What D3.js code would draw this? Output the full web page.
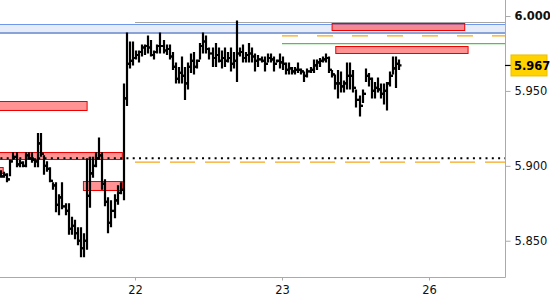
<!DOCTYPE html>
<html><head><meta charset="utf-8">
<script src="https://cdn.jsdelivr.net/npm/d3@7"></script>
<style>
html,body{margin:0;padding:0;background:#fff;}
svg{display:block;}
text{font-family:"DejaVu Sans",Verdana,sans-serif;}
</style></head>
<body><svg id="c" width="550" height="300"></svg>
<script>
// ---- data ----
const dayTicks = [44, 92, 140];
const dayLabels = ["22", "23", "26"];
const yTicks = [6.000, 5.950, 5.900, 5.850];
const lastPrice = 5.967;
const firstOpen = 5.895;
const highs = [5.897,5.896,5.895,5.904,5.909,5.909,5.904,5.903,5.909,5.909,5.909,5.905,5.922,5.922,5.907,5.903,5.899,5.889,5.889,5.881,
5.889,5.875,5.875,5.866,5.864,5.859,5.859,5.855,5.905,5.906,5.906,5.909,5.919,5.909,5.891,5.879,5.877,5.881,5.887,5.889,
5.955,5.989,5.983,5.983,5.977,5.977,5.981,5.981,5.987,5.984,5.977,5.981,5.989,5.984,5.981,5.981,5.976,5.969,5.966,5.973,
5.966,5.969,5.975,5.976,5.971,5.982,5.989,5.987,5.979,5.979,5.982,5.979,5.977,5.979,5.976,5.979,5.976,5.997,5.979,5.981,
5.976,5.982,5.979,5.975,5.974,5.973,5.973,5.975,5.975,5.973,5.971,5.975,5.973,5.969,5.969,5.966,5.966,5.969,5.965,5.963,
5.965,5.966,5.971,5.971,5.972,5.973,5.975,5.973,5.964,5.961,5.964,5.963,5.957,5.969,5.969,5.964,5.951,5.947,5.951,5.965,
5.962,5.959,5.956,5.959,5.955,5.955,5.956,5.963,5.973,5.973,5.971];
const lows = [5.892,5.892,5.889,5.893,5.904,5.899,5.899,5.899,5.899,5.904,5.902,5.899,5.899,5.906,5.894,5.896,5.889,5.884,5.869,5.867,
5.871,5.867,5.854,5.854,5.851,5.847,5.839,5.839,5.844,5.872,5.892,5.899,5.904,5.884,5.873,5.855,5.859,5.865,5.874,5.881,
5.877,5.940,5.965,5.967,5.971,5.969,5.973,5.974,5.975,5.973,5.971,5.975,5.975,5.975,5.974,5.971,5.964,5.955,5.955,5.955,
5.944,5.951,5.962,5.961,5.965,5.971,5.975,5.975,5.971,5.966,5.966,5.969,5.965,5.966,5.969,5.963,5.965,5.956,5.973,5.969,
5.969,5.969,5.969,5.963,5.966,5.969,5.963,5.969,5.969,5.963,5.969,5.965,5.964,5.961,5.961,5.961,5.961,5.962,5.961,5.956,
5.959,5.962,5.962,5.964,5.966,5.969,5.969,5.962,5.959,5.951,5.945,5.949,5.949,5.951,5.951,5.949,5.939,5.933,5.942,5.956,
5.953,5.945,5.945,5.949,5.945,5.941,5.937,5.953,5.961,5.952,5.964];
const closes = [5.893,5.894,5.891,5.903,5.906,5.901,5.902,5.900,5.907,5.905,5.904,5.903,5.915,5.908,5.900,5.898,5.890,5.887,5.874,5.879,
5.873,5.870,5.858,5.860,5.855,5.850,5.845,5.850,5.880,5.895,5.900,5.905,5.907,5.888,5.876,5.862,5.870,5.877,5.882,5.884,
5.945,5.968,5.970,5.972,5.974,5.976,5.979,5.980,5.979,5.974,5.976,5.980,5.980,5.977,5.978,5.973,5.966,5.958,5.962,5.960,
5.955,5.966,5.970,5.966,5.970,5.980,5.983,5.978,5.975,5.972,5.974,5.970,5.972,5.970,5.972,5.968,5.970,5.975,5.976,5.972,
5.974,5.975,5.973,5.970,5.971,5.970,5.968,5.972,5.971,5.968,5.970,5.969,5.968,5.964,5.965,5.963,5.964,5.964,5.963,5.960,
5.963,5.964,5.967,5.969,5.970,5.971,5.972,5.964,5.961,5.955,5.955,5.953,5.955,5.960,5.960,5.952,5.944,5.940,5.948,5.960,
5.958,5.950,5.952,5.951,5.948,5.950,5.955,5.960,5.965,5.968,5.967];
// zones: [startIndex, endIndex, topPrice, bottomPrice]
const redZones = [
  [108.2, 151.5, 5.9956, 5.9912],
  [109.4, 152.6, 5.9800, 5.9752],
  [-2, 28.2, 5.9436, 5.9378],
  [-2, 39.7, 5.9092, 5.9045],
  [27, 39.7, 5.8902, 5.8845],
  [-8, 0.8, 5.8994, 5.8954]
];
const blueBand = [5.9947, 5.9887];
const grayLine = [44, 5.9960];
const orangeTop = [92, 5.9867];
const greenLine = [92, 5.9816];
const dottedLine = [-2, 5.9050];
const orangeBottom = [44, 5.9025];

// ---- layout ----
const W = 505, H = 277;
const svg = d3.select("#c");
const x = d3.scaleLinear().domain([-0.08, 164.82]).range([0, W]);
const y = d3.scaleLinear().domain([5.8258, 6.0107]).range([H, 0]);

svg.append("defs").append("clipPath").attr("id","clip")
  .append("rect").attr("x",0).attr("y",0).attr("width",W).attr("height",H);
const g = svg.append("g").attr("clip-path","url(#clip)");

// blue band
g.append("rect").attr("x",0).attr("width",W)
  .attr("y",y(blueBand[0])).attr("height",y(blueBand[1])-y(blueBand[0]))
  .attr("fill","#e6ecfa");
g.append("line").attr("x1",0).attr("x2",W).attr("y1",Math.round(y(blueBand[0]))+0.5).attr("y2",Math.round(y(blueBand[0]))+0.5)
  .attr("stroke","#6e98ec").attr("stroke-width",1);
g.append("line").attr("x1",0).attr("x2",W).attr("y1",y(blueBand[1])).attr("y2",y(blueBand[1]))
  .attr("stroke","#8aa3d6").attr("stroke-width",2);
// gray line
g.append("line").attr("x1",x(grayLine[0])).attr("x2",W).attr("y1",Math.round(y(grayLine[1]))+0.5).attr("y2",Math.round(y(grayLine[1]))+0.5)
  .attr("stroke","#a6a6a6").attr("stroke-width",1.2);
// orange top dashed
g.append("line").attr("x1",x(orangeTop[0])).attr("x2",W).attr("y1",y(orangeTop[1])).attr("y2",y(orangeTop[1]))
  .attr("stroke","#f5a81c").attr("stroke-width",1.3).attr("stroke-dasharray","16,19");
// green line
g.append("line").attr("x1",x(greenLine[0])).attr("x2",W).attr("y1",y(greenLine[1])).attr("y2",y(greenLine[1]))
  .attr("stroke","#48c848").attr("stroke-width",1.3);
// orange bottom dashed
g.append("line").attr("x1",x(orangeBottom[0])).attr("x2",W).attr("y1",y(orangeBottom[1])).attr("y2",y(orangeBottom[1]))
  .attr("stroke","#f5a81c").attr("stroke-width",1.3).attr("stroke-dasharray","25,10");
// red zones
g.selectAll("rect.zone").data(redZones).enter().append("rect").attr("class","zone")
  .attr("x",d=>x(d[0])+0.5).attr("y",d=>Math.round(y(d[2]))+0.5)
  .attr("width",d=>x(d[1])-x(d[0])).attr("height",d=>Math.round(y(d[3])-y(d[2])))
  .attr("fill","rgba(255,40,40,0.5)").attr("stroke","#ee0000").attr("stroke-width",1);

// bars
const bars = highs.map((h,i)=>({i, h, l:lows[i], c:closes[i], o: i===0 ? firstOpen : closes[i-1]}));
g.selectAll("path.bar").data(bars).enter().append("path").attr("class","bar")
  .attr("d", d=>{
    const cx = Math.round(x(d.i)) + 1;
    const yh = y(d.h), yl = Math.max(y(d.l), yh+2);
    return `M${cx},${yh}V${yl}M${cx-2.5},${y(d.o)}H${cx}M${cx},${y(d.c)}H${cx+2.5}`;
  })
  .attr("stroke","#000").attr("stroke-width",2.2).attr("fill","none");

// dotted line (on top)
g.append("line").attr("x1",x(dottedLine[0])).attr("x2",W).attr("y1",y(dottedLine[1])).attr("y2",y(dottedLine[1]))
  .attr("stroke","#000").attr("stroke-width",2).attr("stroke-dasharray","2,4.3");

// axes
const axisColor = "#aaaaaa";
const yAxis = svg.append("g").attr("transform",`translate(${W+0.5},0)`)
  .call(d3.axisRight(y).tickValues(yTicks).tickFormat(d3.format(".3f")).tickSize(5).tickPadding(4).tickSizeOuter(0));
yAxis.select(".domain").attr("stroke",axisColor).attr("d",`M0,0V${H+0.5}`);
yAxis.selectAll(".tick line").attr("stroke",axisColor);
yAxis.selectAll(".tick text").attr("fill","#111").style("font-size","11.5px")
  .style("font-weight", d=> d===6.000 ? "bold" : "normal");

const xAxis = svg.append("g").attr("transform",`translate(0,${H+0.5})`)
  .call(d3.axisBottom(x).tickValues(dayTicks).tickFormat((d,i)=>dayLabels[i]).tickSize(3).tickPadding(5).tickSizeOuter(0));
xAxis.select(".domain").attr("stroke",axisColor).attr("d",`M0,0H${W+0.5}`);
xAxis.selectAll(".tick line").attr("stroke",axisColor);
xAxis.selectAll(".tick text").attr("fill","#111").style("font-size","11.5px");

// current price label
const yp = y(lastPrice);
svg.append("line").attr("x1",W).attr("x2",W+6).attr("y1",yp).attr("y2",yp).attr("stroke","#000").attr("stroke-width",1.2);
svg.append("rect").attr("x",511).attr("y",yp-10.5).attr("width",36).attr("height",21)
  .attr("fill","#ffd200").attr("stroke","#e8c000").attr("stroke-width",1);
svg.append("text").attr("x",514).attr("y",yp).attr("dy","0.36em")
  .style("font-size","11.5px").style("font-weight","bold").attr("fill","#000")
  .text(d3.format(".3f")(lastPrice));
</script></body></html>
